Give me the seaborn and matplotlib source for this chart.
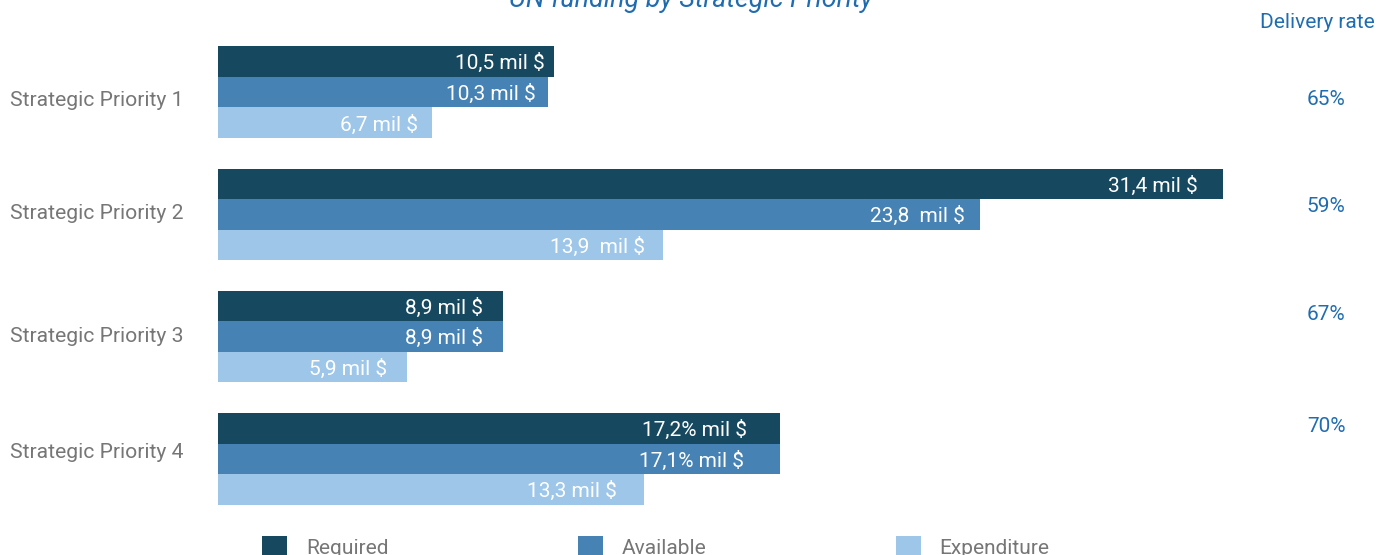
import matplotlib
matplotlib.use("Agg")
import matplotlib.pyplot as plt
from matplotlib.patches import Patch
import seaborn as sns
import pandas as pd

# ---- data ----
priorities = ["Strategic Priority 1", "Strategic Priority 2", "Strategic Priority 3", "Strategic Priority 4"]
series = ["Required", "Available", "Expenditure"]
required = [10.5, 31.4, 8.9, 17.55]
available = [10.3, 23.8, 8.9, 17.55]
expenditure = [6.7, 13.9, 5.9, 13.3]
required_labels = ["10,5 mil $", "31,4 mil $", "8,9 mil $", "17,2% mil $"]
available_labels = ["10,3 mil $", "23,8  mil $", "8,9 mil $", "17,1% mil $"]
expenditure_labels = ["6,7 mil $", "13,9  mil $", "5,9 mil $", "13,3 mil $"]
delivery_rates = ["65%", "59%", "67%", "70%"]
title = "UN funding by Strategic Priority"
delivery_header = "Delivery rate"

# ---- style ----
sns.set_style("white")
plt.rcParams["font.family"] = ["Roboto", "DejaVu Sans"]
colors = ["#16495f", "#4682b4", "#9dc6e9"]
blue_text = "#1f6db0"
grey_text = "#767676"

W, H, DPI = 1378, 555, 100
fig = plt.figure(figsize=(W / DPI, H / DPI), dpi=DPI)
ax = fig.add_axes([218 / W, (H - 520) / H, 1120 / W, 489 / H])

df = pd.DataFrame({
    "Priority": priorities * 3,
    "Type": [s for s in series for _ in priorities],
    "Value": required + available + expenditure,
})
sns.barplot(data=df, y="Priority", x="Value", hue="Type", order=priorities,
            hue_order=series, palette=colors, orient="h", width=0.75,
            saturation=1, ax=ax, legend=False, errorbar=None, linewidth=0)
ax.set_xlim(0, 35)
ax.set_ylim(3.5, -0.5)
ax.set_xlabel("")
ax.set_ylabel("")
ax.set_xticks([])
for s in ax.spines.values():
    s.set_visible(False)

# category labels (slightly offset from group centres as in reference)
label_pos = [0.05, 0.98, 1.98, 2.93]
ax.set_yticks(label_pos)
ax.set_yticklabels(priorities, fontsize=15.2, color=grey_text)
ax.tick_params(axis="y", length=0, pad=25)

# bar value labels
all_labels = [required_labels, available_labels, expenditure_labels]
pads = [[9, 25, 20, 33], [12, 15, 20, 36], [14, 18, 20, 27]]
for cont, labs, pd_ in zip(ax.containers, all_labels, pads):
    for patch, lab, p in zip(cont.patches, labs, pd_):
        ax.annotate(lab, (patch.get_x() + patch.get_width(), patch.get_y() + patch.get_height() / 2),
                    xytext=(-p * 72 / DPI, -1.2), textcoords="offset points",
                    ha="right", va="center", color="white", fontsize=15)

# delivery rates column
rate_px = [100, 207, 315, 426]
for r, ypx in zip(delivery_rates, rate_px):
    fig.text(1326 / W, 1 - ypx / H, r, ha="center", va="center", color=blue_text, fontsize=15)
fig.text(1317 / W, 1 - 23 / H, delivery_header, ha="center", va="center", color=blue_text, fontsize=15)

# title (partly cut at top)
fig.text(691 / W, 1 - 7 / H, title, ha="center", va="baseline", color=blue_text,
         fontsize=19.4, style="italic")

# legend
handles = [Patch(facecolor=c, edgecolor="none") for c in colors]
leg = fig.legend(handles, series, loc="upper left", bbox_to_anchor=(262 / W, 1 - 536 / H),
                 ncol=3, frameon=False, borderpad=0, borderaxespad=0, fontsize=15,
                 handlelength=1.2, handleheight=1.2, handletextpad=0.9, columnspacing=9.1,
                 labelcolor=grey_text)

fig.savefig("out.png", dpi=DPI)
